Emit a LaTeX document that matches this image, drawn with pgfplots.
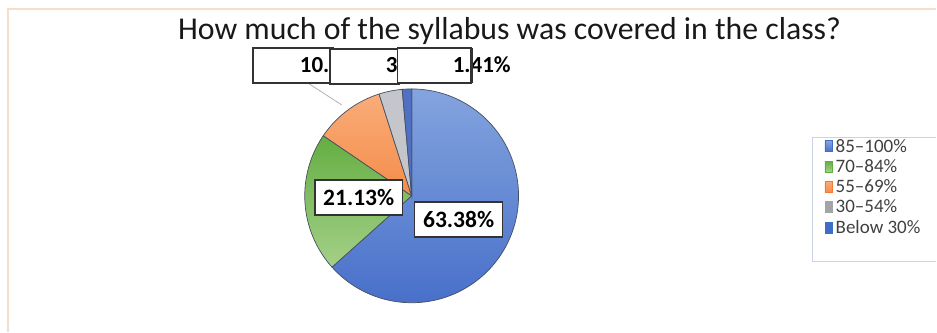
\documentclass[border=0pt]{standalone}
\usepackage{pgfplots}
\pgfplotsset{compat=1.18}
\usepackage{fontspec}
\setmainfont{Carlito}

\definecolor{cAtop}{RGB}{132,164,222}
\definecolor{cAbot}{RGB}{72,112,202}
\definecolor{cBtop}{RGB}{100,174,66}
\definecolor{cBbot}{RGB}{164,208,136}
\definecolor{cCtop}{RGB}{250,172,122}
\definecolor{cCbot}{RGB}{244,140,72}
\definecolor{cD}{RGB}{196,198,204}
\definecolor{cE}{RGB}{80,112,196}
\definecolor{lA}{RGB}{62,110,200}
\definecolor{lB}{RGB}{96,172,62}
\definecolor{lC}{RGB}{240,124,52}
\definecolor{lD}{RGB}{164,164,168}
\definecolor{lE}{RGB}{62,110,200}
\definecolor{edge}{RGB}{70,78,96}
\definecolor{frame}{RGB}{245,222,204}
\definecolor{legframe}{RGB}{200,212,228}

% slice values (percent)
\def\pA{63.38}
\def\pB{21.13}
\def\pC{10.56}
\def\pD{3.52}
\def\pE{1.41}

\begin{document}
\begin{tikzpicture}
\pgfmathsetmacro\aA{90}
\pgfmathsetmacro\aB{\aA-3.6*\pA}
\pgfmathsetmacro\aC{\aB-3.6*\pB}
\pgfmathsetmacro\aD{\aC-3.6*\pC}
\pgfmathsetmacro\aE{\aD-3.6*\pD}
\pgfmathsetmacro\aF{\aE-3.6*\pE}
\begin{axis}[
  width=937pt, height=332pt, scale only axis,
  xmin=0, xmax=937, ymin=0, ymax=332, y dir=reverse,
  hide axis, clip=false,
  legend style={at={(axis cs:823,135)}, anchor=north west, draw=none, fill=none,
    font=\fontsize{19}{20}\selectfont, text=black!75, row sep=1.8pt,
    inner xsep=2pt, inner ysep=2pt, nodes={inner xsep=2.5pt}},
  legend cell align=left,
]
\path (axis cs:0,0) rectangle (axis cs:937,332);
% chart area border
\draw[frame, line width=1.6pt] (axis cs:8,332) -- (axis cs:8,9) -- (axis cs:937,9);

\addplot[top color=cAtop, bottom color=cAbot, draw=edge, line width=0.7pt,
  domain=\aB:\aA, samples=120, variable=\t,
  legend image code/.code={\fill[lA] (0pt,-5.5pt) rectangle (8pt,5.5pt);}]
  ({412+107*cos(\t)},{196-107*sin(\t)}) -- (axis cs:412,196) -- cycle;
\addlegendentry{85--100\%}
\addplot[top color=cBtop, bottom color=cBbot, draw=edge, line width=0.7pt,
  domain=\aC:\aB, samples=60, variable=\t,
  legend image code/.code={\fill[lB] (0pt,-5.5pt) rectangle (8pt,5.5pt);}]
  ({412+107*cos(\t)},{196-107*sin(\t)}) -- (axis cs:412,196) -- cycle;
\addlegendentry{70--84\%}
\addplot[top color=cCtop, bottom color=cCbot, draw=edge, line width=0.7pt,
  domain=\aD:\aC, samples=40, variable=\t,
  legend image code/.code={\fill[lC] (0pt,-5.5pt) rectangle (8pt,5.5pt);}]
  ({412+107*cos(\t)},{196-107*sin(\t)}) -- (axis cs:412,196) -- cycle;
\addlegendentry{55--69\%}
\addplot[fill=cD, draw=edge, line width=0.7pt,
  domain=\aE:\aD, samples=20, variable=\t,
  legend image code/.code={\fill[lD] (0pt,-5.5pt) rectangle (8pt,5.5pt);}]
  ({412+107*cos(\t)},{196-107*sin(\t)}) -- (axis cs:412,196) -- cycle;
\addlegendentry{30--54\%}
\addplot[fill=cE, draw=edge, line width=0.7pt,
  domain=\aF:\aE, samples=10, variable=\t,
  legend image code/.code={\fill[lE] (0pt,-5.5pt) rectangle (8pt,5.5pt);}]
  ({412+107*cos(\t)},{196-107*sin(\t)}) -- (axis cs:412,196) -- cycle;
\addlegendentry{Below 30\%}

% legend frame
\draw[legframe, line width=1pt] (axis cs:937,138) -- (axis cs:813,138) -- (axis cs:813,262) -- (axis cs:937,262);

% title
\node[anchor=base, font=\fontsize{31.8}{36}\selectfont, text=black!90] at (axis cs:510,40)
  {How much of the syllabus was covered in the class?};

% leader line
\draw[black!30, line width=0.8pt] (axis cs:308,83) -- (axis cs:342,105);

% top (overlapping) data labels
\draw[black!80, line width=1.6pt, fill=white] (axis cs:253,48) rectangle (axis cs:333,83);
\node[anchor=base west, inner sep=0, font=\fontsize{23}{26}\selectfont\bfseries] at (axis cs:300,73) {10.56\%};
\draw[black!80, line width=1.6pt, fill=white] (axis cs:330,49) rectangle (axis cs:400,84);
\node[anchor=base west, inner sep=0, font=\fontsize{23}{26}\selectfont\bfseries] at (axis cs:386,73) {3.52\%};
\draw[black!80, line width=1.6pt, fill=white] (axis cs:398,48) rectangle (axis cs:472,83);
\node[anchor=base west, inner sep=0, font=\fontsize{23}{26}\selectfont\bfseries] at (axis cs:453,73) {1.41\%};
\draw[black!80, line width=2.5pt] (axis cs:472,48) -- (axis cs:472,83);

% in-pie data labels
\node[draw=black!80, line width=1.6pt, fill=white, minimum width=88pt, minimum height=35pt, inner sep=0,
  font=\fontsize{23.5}{26}\selectfont\bfseries] at (axis cs:459,219.5) {63.38\%};
\node[draw=black!80, line width=1.6pt, fill=white, minimum width=88pt, minimum height=35pt, inner sep=0,
  font=\fontsize{23.5}{26}\selectfont\bfseries] at (axis cs:359,197.5) {21.13\%};
\end{axis}
\end{tikzpicture}
\end{document}
